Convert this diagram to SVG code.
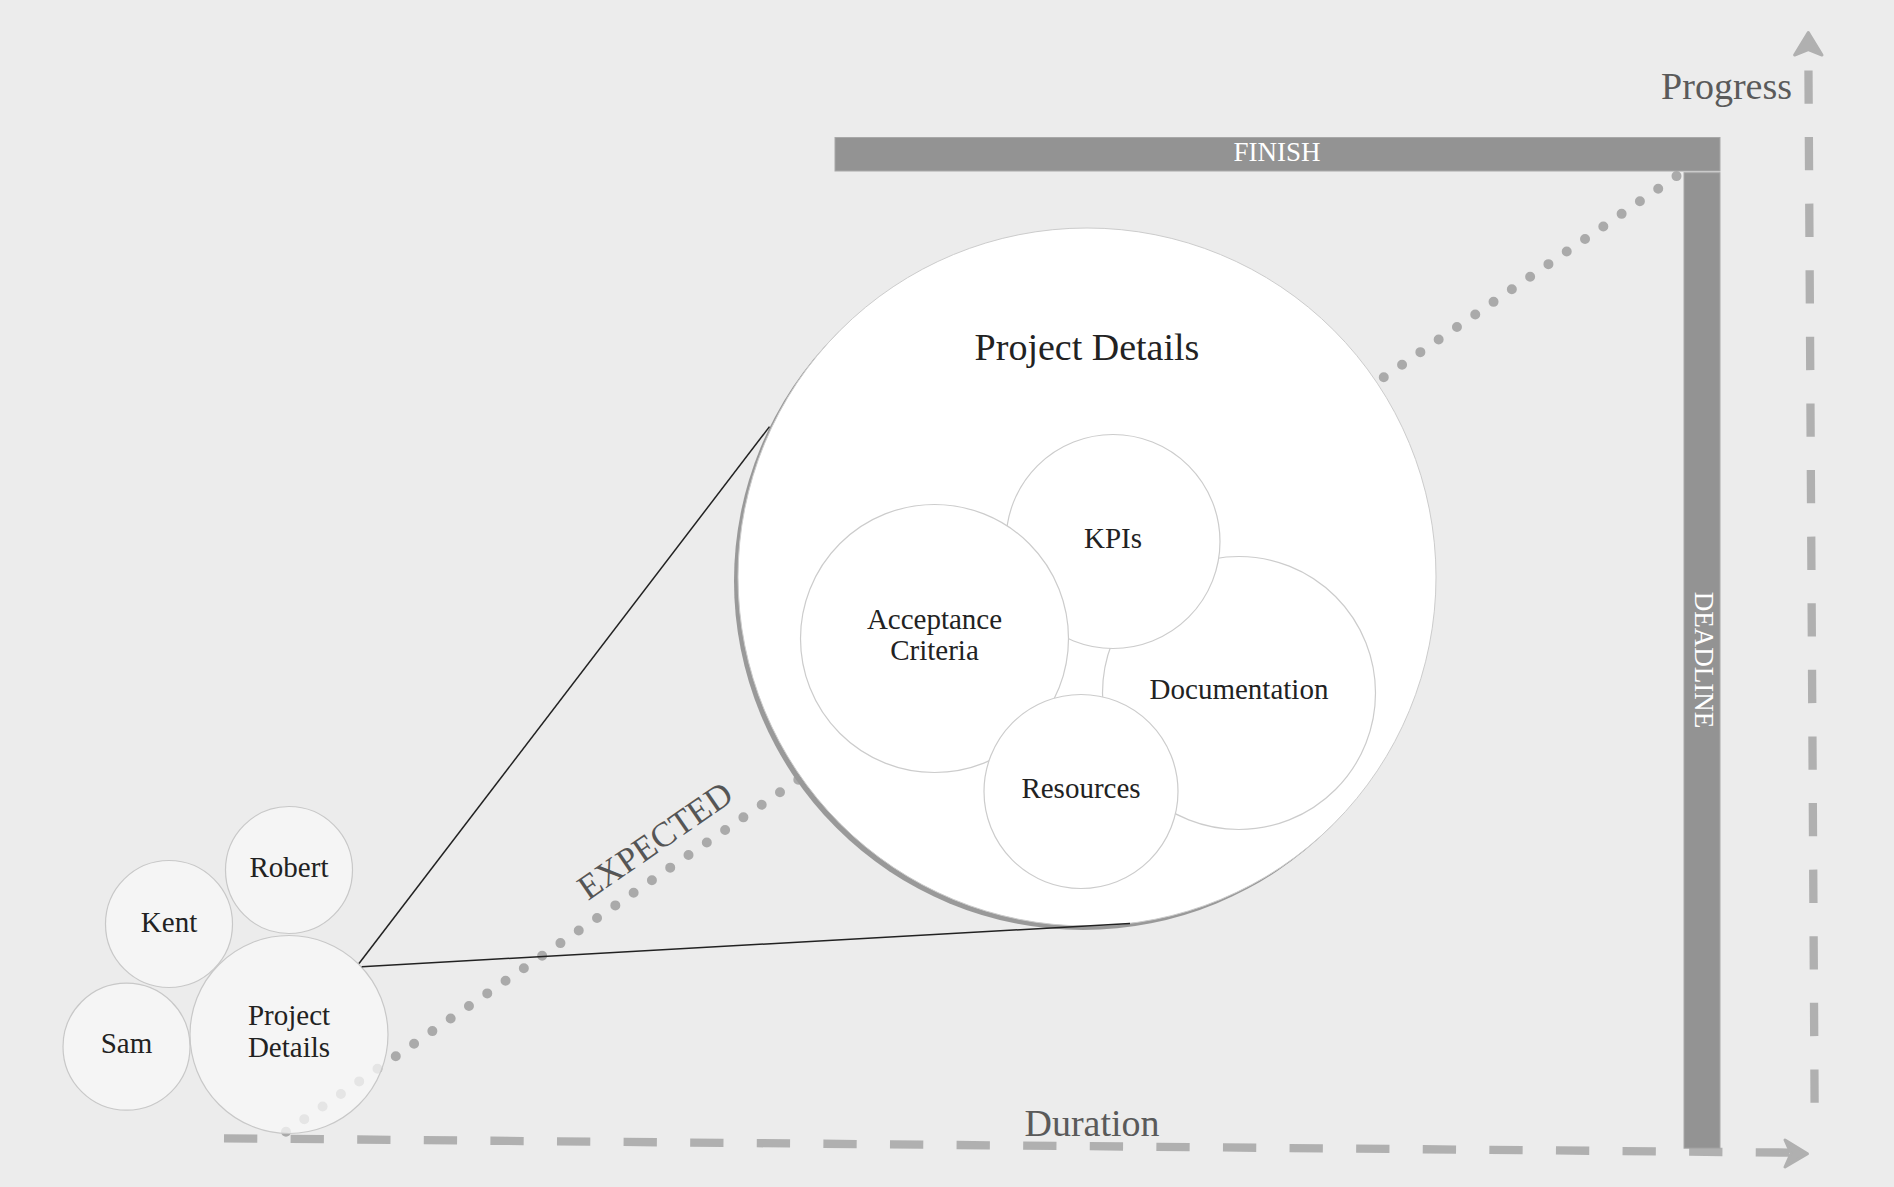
<svg xmlns="http://www.w3.org/2000/svg" width="1894" height="1187" viewBox="0 0 1894 1187">
<style>
.node{fill:#ffffff;stroke:#cccccc;stroke-width:1.2}
.small{fill:#f8f8f8;fill-opacity:0.75;stroke:#c8c8c8;stroke-width:1.2}
.lbl{font-family:"Liberation Serif","Times New Roman",serif;font-size:29px;fill:#222;text-anchor:middle}
.axis{fill:none;stroke:#b0b0b0;stroke-width:8.3;stroke-dasharray:33.3 33.3}
.head{fill:#b0b0b0;stroke:#b0b0b0;stroke-width:3;stroke-linejoin:round}
.bar{fill:#939393;stroke:#a8a8a8;stroke-width:1}
.barTxt{font-family:"Liberation Serif","Times New Roman",serif;font-size:27px;fill:#ffffff;text-anchor:middle}
.axTxt{font-family:"Liberation Serif","Times New Roman",serif;font-size:38px;fill:#5a5a5a}
.zoom{fill:none;stroke:#222;stroke-width:1.5}
</style>
<rect x="0" y="0" width="1894" height="1187" fill="#ececec"/>

<g id="axes">
  <path class="axis" d="M224,1138.3 L1790,1152.6"/>
  <path class="head" d="M1807.5,1153.7 L1785,1140 L1791,1153.5 L1785,1167 Z"/>
  <path class="axis" d="M1814.6,1102.7 L1808.4,60"/>
  <path class="head" d="M1808.3,32.5 L1822,55 L1808.3,49.5 L1794.6,55 Z"/>
  <text class="axTxt" x="1792" y="98.7" text-anchor="end">Progress</text>
  <text class="axTxt" x="1092" y="1135.7" text-anchor="middle" font-size="39">Duration</text>
</g>

<g id="finish">
  <rect class="bar" x="835" y="137.5" width="885" height="33.5"/>
  <text class="barTxt" x="1277" y="160.7">FINISH</text>
</g>
<g id="deadline">
  <rect class="bar" x="1684" y="172.7" width="36" height="975.5"/>
  <text class="barTxt" transform="translate(1695,660) rotate(90)">DEADLINE</text>
</g>

<g id="connectors">
  <path d="M286,1131.7 L1679.6,174" fill="none" stroke="#aaaaaa" stroke-width="10" stroke-linecap="round" stroke-dasharray="0 22.2"/>
</g>

<g id="project-details-zoom">
  <circle cx="1083" cy="581" r="349" fill="#999999"/>
  <circle cx="1087" cy="577" r="349" fill="#ffffff" stroke="#cccccc" stroke-width="1"/>
  <text x="1087" y="360" font-family="'Liberation Serif','Times New Roman',serif" font-size="38" fill="#222" text-anchor="middle">Project Details</text>
  <g id="documentation">
    <circle class="node" cx="1239" cy="693" r="136.5"/>
    <text class="lbl" x="1239" y="699">Documentation</text>
  </g>
  <g id="kpis">
    <circle class="node" cx="1113" cy="541.5" r="107"/>
    <text class="lbl" x="1113" y="548" font-size="28">KPIs</text>
  </g>
  <g id="acceptance-criteria">
    <circle class="node" cx="934.5" cy="638.5" r="134"/>
    <text class="lbl" x="934.5" y="628.6">Acceptance</text>
    <text class="lbl" x="934.5" y="659.8">Criteria</text>
  </g>
  <g id="resources">
    <circle class="node" cx="1081" cy="791.5" r="97"/>
    <text class="lbl" x="1081" y="797.6">Resources</text>
  </g>
</g>

<g id="robert">
  <circle class="small" cx="289" cy="870" r="63.5"/>
  <text class="lbl" x="289" y="877">Robert</text>
</g>
<g id="kent">
  <circle class="small" cx="169" cy="924" r="63.5"/>
  <text class="lbl" x="169" y="932">Kent</text>
</g>
<g id="sam">
  <circle class="small" cx="126.5" cy="1046.7" r="63.5"/>
  <text class="lbl" x="126.5" y="1053">Sam</text>
</g>
<g id="project-details">
  <circle class="small" cx="289" cy="1034.5" r="99"/>
  <text class="lbl" x="289" y="1025">Project</text>
  <text class="lbl" x="289" y="1057">Details</text>
</g>

<g id="zoom-lines">
  <path class="zoom" d="M359,963.5 L769.5,426.6"/>
  <path class="zoom" d="M361.7,966.7 L1130,923.5"/>
</g>

<text transform="translate(588,901) rotate(-34.6)" font-family="'Liberation Serif','Times New Roman',serif" font-size="35" fill="#555555">EXPECTED</text>
</svg>
